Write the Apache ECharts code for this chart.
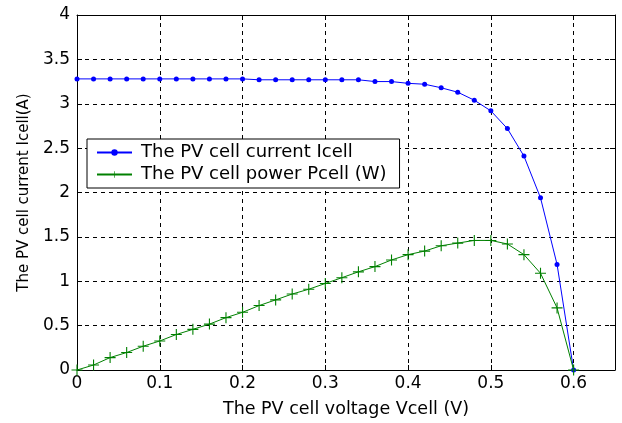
<!DOCTYPE html>
<html>
<head>
<meta charset="utf-8">
<script src="https://cdn.jsdelivr.net/npm/echarts@6/dist/echarts.min.js"></script>
<style>
html,body{margin:0;padding:0;background:#fff;}
#chart{width:622px;height:423px;}
</style>
</head>
<body>
<div id="chart"></div>
<script>
var voltage = [0,0.02,0.04,0.06,0.08,0.10,0.12,0.14,0.16,0.18,0.20,0.22,0.24,0.26,0.28,0.30,0.32,0.34,0.36,0.38,0.40,0.42,0.44,0.46,0.48,0.50,0.52,0.54,0.56,0.58,0.60];
var current = [3.28,3.28,3.28,3.28,3.28,3.28,3.28,3.28,3.28,3.28,3.28,3.27,3.27,3.27,3.27,3.27,3.27,3.27,3.25,3.25,3.23,3.22,3.18,3.13,3.04,2.92,2.72,2.41,1.94,1.19,0.00];
var power = [0,0.056,0.14,0.197,0.268,0.327,0.40,0.458,0.517,0.59,0.65,0.726,0.79,0.856,0.91,0.975,1.04,1.106,1.165,1.24,1.30,1.34,1.40,1.43,1.46,1.46,1.42,1.30,1.09,0.70,0.0];
var xTicks = ['0','0.1','0.2','0.3','0.4','0.5','0.6'];
var yTicks = ['0','0.5','1','1.5','2','2.5','3','3.5','4'];
var seriesNames = ['The PV cell current Icell','The PV cell power Pcell (W)'];
var xTitle = 'The PV cell voltage Vcell (V)';
var yTitle = 'The PV cell current Icell(A)';

var chart = echarts.init(document.getElementById('chart'));
var font = '"DejaVu Sans", sans-serif';
var plusPath = 'path://M4.5,0H5.5V4.5H10V5.5H5.5V10H4.5V5.5H0V4.5H4.5Z';

function pairs(xs, ys){ return xs.map(function(x,i){return [x, ys[i]];}); }

function fmtX(v){
  var s = String(Math.round(v*10)/10);
  return (Math.abs(v*10 - Math.round(v*10)) < 1e-6 && xTicks.indexOf(s) >= 0) ? s : '';
}
function fmtY(v){
  var s = String(Math.round(v*10)/10);
  return yTicks.indexOf(s) >= 0 ? s : '';
}

chart.setOption({
  animation: false,
  backgroundColor: '#fff',
  grid: {left: 77, top: 15, right: 7, bottom: 50, containLabel: false},
  legend: {
    orient: 'vertical',
    left: 87, top: 139,
    itemWidth: 35, itemHeight: 8, itemGap: 3,
    padding: [4, 13, 4, 9],
    borderColor: '#000', borderWidth: 1,
    backgroundColor: '#fff',
    textStyle: {fontFamily: font, fontSize: 18, color: '#000', lineHeight: 19, padding: [0, 0, 0, 4]},
    data: seriesNames
  },
  xAxis: [{
    type: 'value', min: 0, max: 0.65, interval: 0.1,
    name: xTitle, nameLocation: 'middle', nameGap: 30,
    nameTextStyle: {fontFamily: font, fontSize: 17.5, color: '#000'},
    axisLine: {show: true, lineStyle: {color: '#000', width: 1}},
    axisTick: {show: true, inside: true, length: 5, lineStyle: {color: '#000'}},
    axisLabel: {fontFamily: font, fontSize: 17, color: '#000', margin: 5, formatter: fmtX, showMaxLabel: false},
    splitLine: {show: true, lineStyle: {color: '#000', type: [4, 4], width: 1}}
  },{
    type: 'value', min: 0, max: 0.65, interval: 0.1, position: 'top',
    axisLine: {show: true, onZero: false, lineStyle: {color: '#000', width: 1}},
    axisTick: {show: true, inside: true, length: 5, lineStyle: {color: '#000'}},
    axisLabel: {show: false},
    splitLine: {show: false}
  }],
  yAxis: [{
    type: 'value', min: 0, max: 4, interval: 0.5,
    name: yTitle, nameLocation: 'middle', nameGap: 45, nameRotate: 90,
    nameTextStyle: {fontFamily: font, fontSize: 15, color: '#000'},
    axisLine: {show: true, lineStyle: {color: '#000', width: 1}},
    axisTick: {show: true, inside: true, length: 5, lineStyle: {color: '#000'}},
    axisLabel: {fontFamily: font, fontSize: 17, color: '#000', margin: 7, formatter: fmtY},
    splitLine: {show: true, lineStyle: {color: '#000', type: [4, 4], width: 1}}
  },{
    type: 'value', min: 0, max: 4, interval: 0.5, position: 'right',
    axisLine: {show: true, onZero: false, lineStyle: {color: '#000', width: 1}},
    axisTick: {show: true, inside: true, length: 5, lineStyle: {color: '#000'}},
    axisLabel: {show: false},
    splitLine: {show: false}
  }],
  series: [{
    name: seriesNames[0], type: 'line',
    data: pairs(voltage, current),
    symbol: 'circle', symbolSize: 5,
    lineStyle: {color: '#0000ff', width: 1},
    itemStyle: {color: '#0000ff'},
    z: 3
  },{
    name: seriesNames[1], type: 'line',
    data: pairs(voltage, power),
    symbol: plusPath, symbolSize: 11,
    lineStyle: {color: '#008000', width: 1},
    itemStyle: {color: '#008000'},
    z: 4
  }]
});
</script>
</body>
</html>
